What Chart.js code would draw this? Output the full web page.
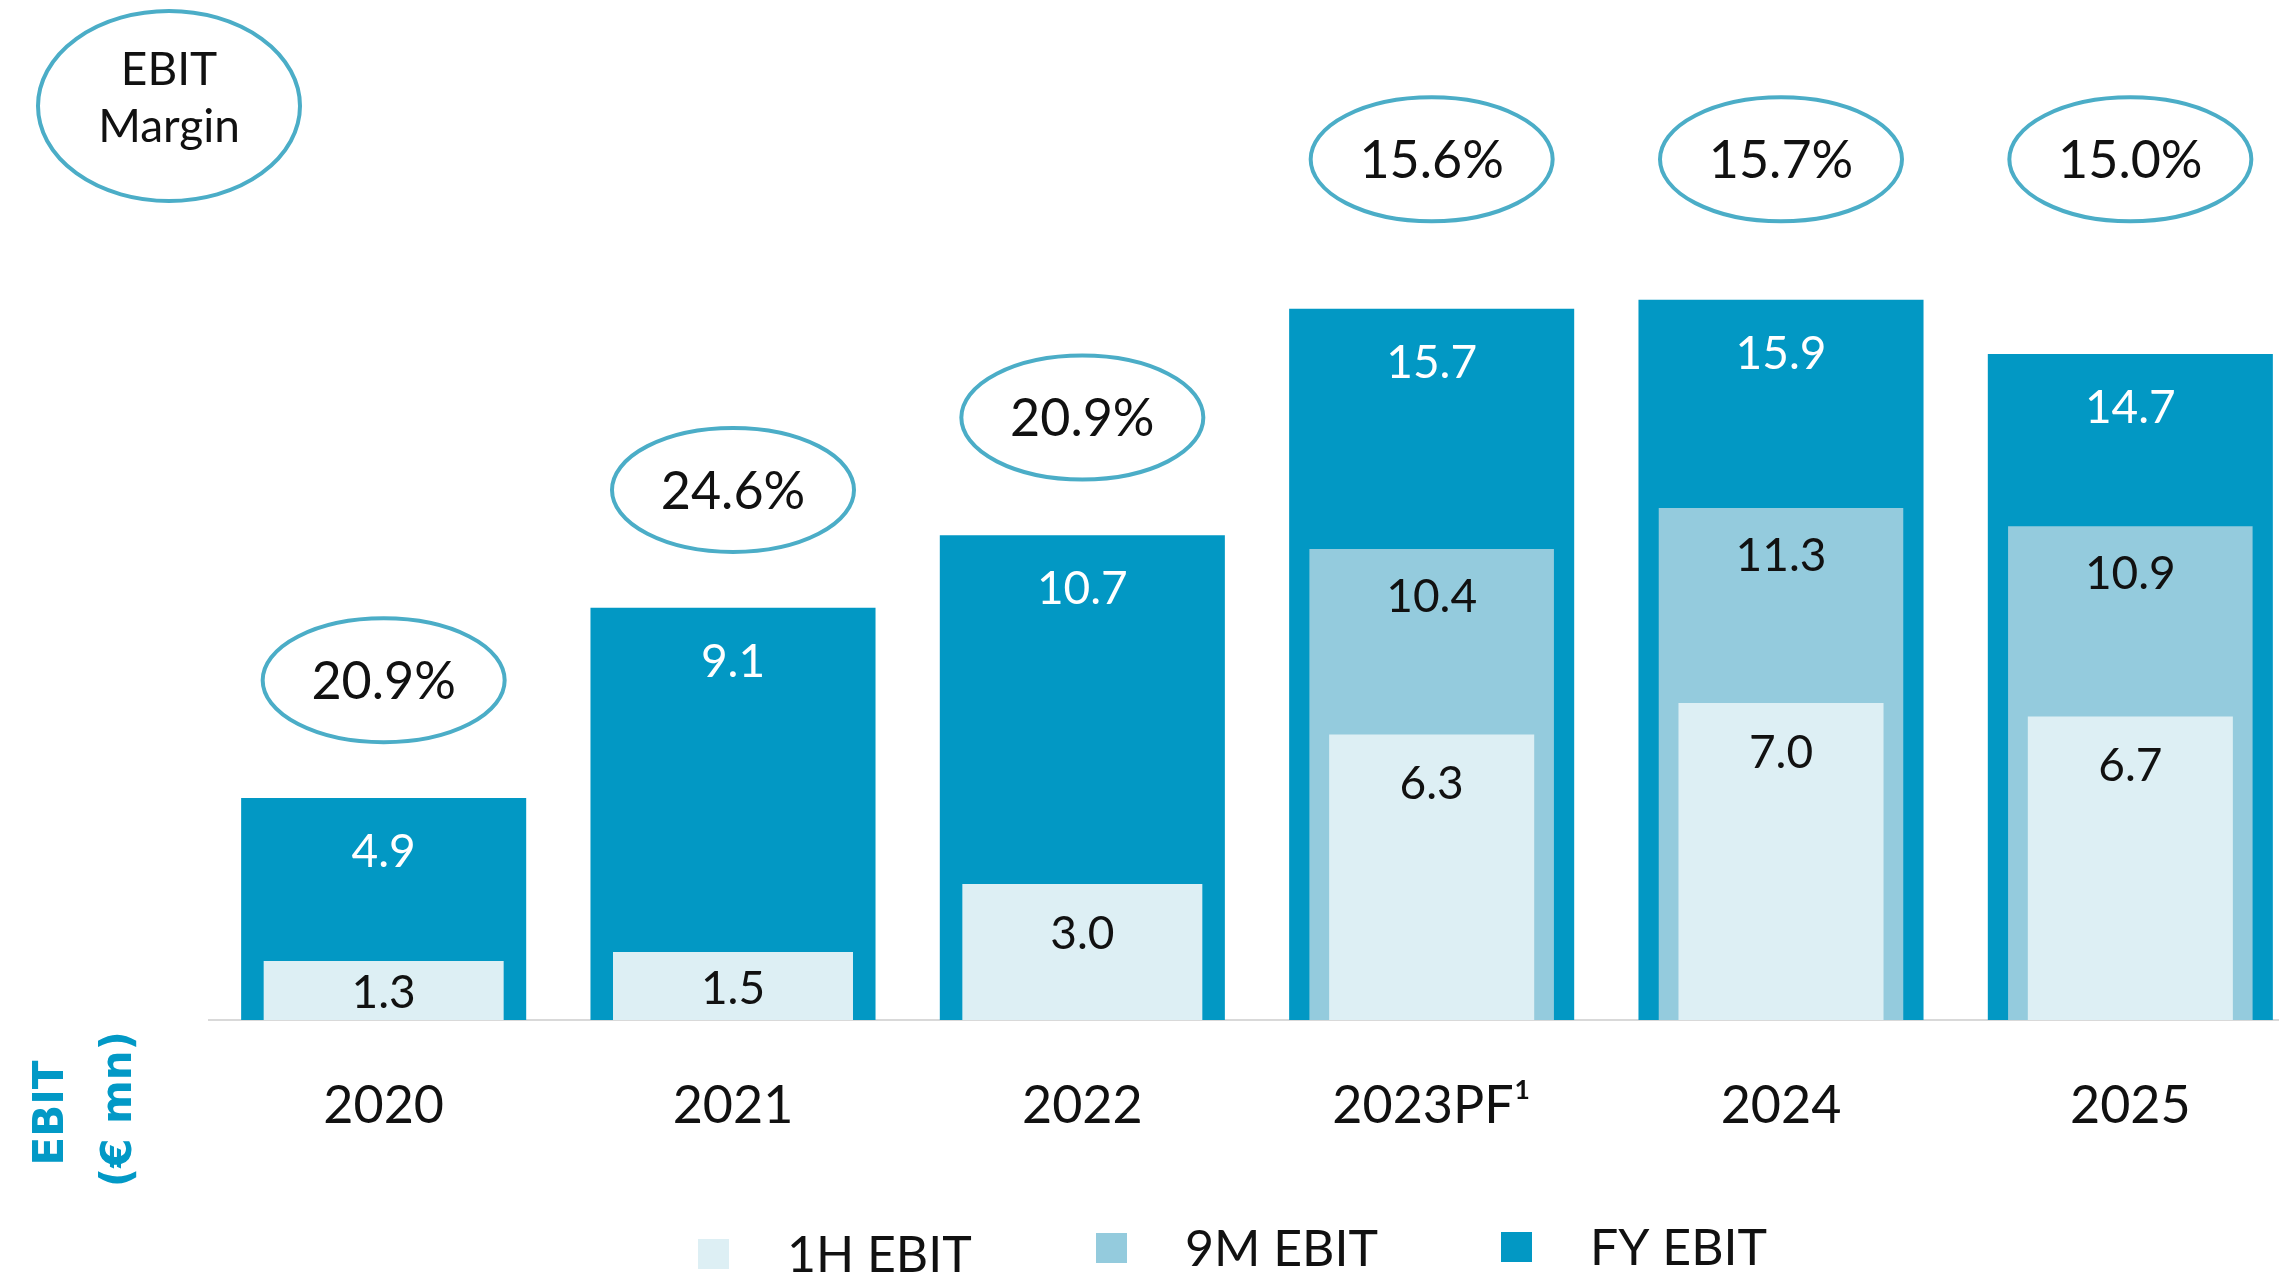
<!DOCTYPE html>
<html>
<head>
<meta charset="utf-8">
<script src="https://cdn.jsdelivr.net/npm/chart.js@4/dist/chart.umd.min.js"></script>
<style>
    html, body { margin: 0; padding: 0; background: #fff; overflow: hidden; }
    #chart { position: absolute; left: 0; top: 0; }
</style>
</head>
<body>
<canvas id="chart" width="2305" height="1274"></canvas>
<script>
// values (€ mn)
const categories = ["2020", "2021", "2022", "2023PF\u00B9", "2024", "2025"]
const fyEbit = [4.9, 9.1, 10.7, 15.7, 15.9, 14.7]
const nineMonthEbit = [null, null, null, 10.4, 11.3, 10.9]
const halfYearEbit = [1.3, 1.5, 3.0, 6.3, 7.0, 6.7]
const ebitMargin = [20.9, 24.6, 20.9, 15.6, 15.7, 15.0]

const seriesNames = ["1H EBIT", "9M EBIT", "FY EBIT"]
const colors = { h1: "#ddeff4", m9: "#94cbdd", fy: "#0298c4", ring: "#4badc7", title: "#0299c6" }
const fontFamily = "Lato, 'Open Sans', sans-serif"

// 1H bars are narrower in the years where a 9M bar sits behind them
const h1WithNine = halfYearEbit.map((v, i) => nineMonthEbit[i] !== null ? v : null)
const h1Alone = halfYearEbit.map((v, i) => nineMonthEbit[i] === null ? v : null)

const overlayPlugin = {
    id: "overlay",
    afterDatasetsDraw(chart) {
        const ctx = chart.ctx
        const yScale = chart.scales.y
        ctx.save()
        ctx.textAlign = "center"
        ctx.textBaseline = "middle"
        ctx.font = "46px " + fontFamily

        // value labels just under the top of each bar
        chart.data.datasets.forEach((ds, di) => {
            const meta = chart.getDatasetMeta(di)
            meta.data.forEach((bar, i) => {
                const v = ds.data[i]
                if (v === null || v === undefined) return
                const height = bar.base - bar.y
                const offset = Math.min(ds.labelOffset, height * 0.55)
                ctx.fillStyle = ds.labelColor
                ctx.fillText(v.toFixed(1), bar.x, bar.y + offset)
            })
        })

        // margin ellipses above the bars
        const fyMeta = chart.getDatasetMeta(3)
        ctx.font = "52px " + fontFamily
        ctx.lineWidth = 4
        ctx.strokeStyle = colors.ring
        fyMeta.data.forEach((bar, i) => {
            let v = fyEbit[i] + 2.6
            if (v > 16) v = 19
            const cy = yScale.getPixelForValue(v)
            ctx.beginPath()
            ctx.ellipse(bar.x, cy, 121, 62, 0, 0, Math.PI * 2)
            ctx.stroke()
            ctx.fillStyle = "#111"
            ctx.fillText(ebitMargin[i].toFixed(1) + "%", bar.x, cy + 2)
        })

        // "EBIT Margin" key ellipse
        ctx.beginPath()
        ctx.ellipse(169, 106, 131, 95, 0, 0, Math.PI * 2)
        ctx.stroke()
        ctx.font = "46px " + fontFamily
        ctx.fillText("EBIT", 169, 70)
        ctx.fillText("Margin", 169, 127)

        // axis title, rotated, under the baseline
        ctx.fillStyle = colors.title
        ctx.font = "bold 42px 'DejaVu Sans', sans-serif"
        ctx.translate(52, 1113)
        ctx.rotate(-Math.PI / 2)
        ctx.fillText("EBIT", 0, 0)
        ctx.rotate(Math.PI / 2)
        ctx.translate(68, -4)
        ctx.rotate(-Math.PI / 2)
        ctx.fillText("(\u20AC mn)", 0, 0)
        ctx.restore()

        // legend
        ctx.save()
        ctx.textAlign = "left"
        ctx.textBaseline = "middle"
        ctx.font = "50px " + fontFamily
        const legendItems = [
            { name: seriesNames[0], color: colors.h1, x: 698, y: 1254 },
            { name: seriesNames[1], color: colors.m9, x: 1096, y: 1248 },
            { name: seriesNames[2], color: colors.fy, x: 1501, y: 1247 }
        ]
        legendItems.forEach(item => {
            ctx.fillStyle = item.color
            ctx.fillRect(item.x, item.y - 15, 31, 30)
            ctx.fillStyle = "#111"
            ctx.fillText(item.name, item.x + 89, item.y + 2)
        })
        ctx.restore()
    }
}

new Chart(document.getElementById("chart"), {
    type: "bar",
    data: {
        labels: categories,
        datasets: [
            { label: seriesNames[0], data: h1WithNine, backgroundColor: colors.h1, barPercentage: 0.587, labelColor: "#111", labelOffset: 50 },
            { label: seriesNames[0], data: h1Alone, backgroundColor: colors.h1, barPercentage: 0.687, labelColor: "#111", labelOffset: 50 },
            { label: seriesNames[1], data: nineMonthEbit, backgroundColor: colors.m9, barPercentage: 0.70, labelColor: "#111", labelOffset: 48 },
            { label: seriesNames[2], data: fyEbit, backgroundColor: colors.fy, barPercentage: 0.816, labelColor: "#fff", labelOffset: 54 }
        ]
    },
    options: {
        responsive: false,
        animation: false,
        devicePixelRatio: 1,
        layout: { padding: { left: 209, right: 0, top: 114, bottom: 0 } },
        datasets: { bar: { grouped: false, categoryPercentage: 1, borderWidth: 0 } },
        plugins: { legend: { display: false }, tooltip: { enabled: false } },
        scales: {
            x: {
                grid: { display: false, drawTicks: false },
                border: { display: true, color: "#d9d9d9", width: 2 },
                ticks: { color: "#111", font: { family: fontFamily, size: 52 }, padding: 55 },
                afterFit(scale) { scale.height = 254 }
            },
            y: { display: false, min: 0, max: 20 }
        }
    },
    plugins: [overlayPlugin]
})
</script>
</body>
</html>
